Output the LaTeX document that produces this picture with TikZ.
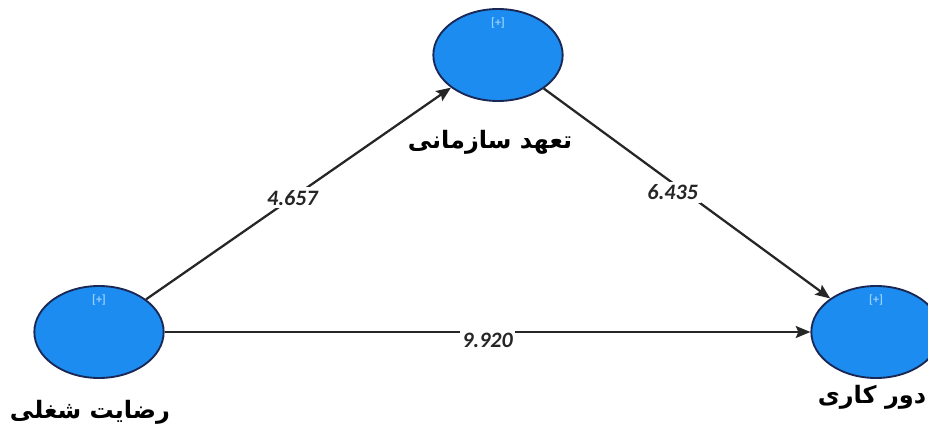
\documentclass[tikz,border=0pt]{standalone}
\usepackage{fontspec}
\setmainfont{Carlito}
\newfontfamily\farsifont[Script=Arabic]{DejaVu Sans}
\TeXXeTstate=1
\usetikzlibrary{arrows.meta,positioning,shapes.geometric}
\definecolor{latentblue}{RGB}{28,140,240}
\definecolor{latentedge}{RGB}{25,40,85}
\definecolor{pluslight}{RGB}{150,210,255}

\begin{document}
\begin{tikzpicture}[x=0.75pt,y=-0.75pt,
  latent/.style={ellipse,draw=latentedge,line width=1.4pt,fill=latentblue,
    minimum width=97pt,minimum height=69pt,inner sep=0pt},
  plussign/.style={text=pluslight,font=\fontsize{9}{10}\selectfont\bfseries,inner sep=0pt},
  effect/.style={black!85,line width=1.7pt,-{Stealth[length=11pt,width=9pt,inset=2pt]}},
  coef/.style={fill=white,inner sep=2pt,text=black!85,
    font=\fontsize{16.5}{19}\selectfont\bfseries\itshape},
  farsi/.style={font=\farsifont\fontsize{18}{21}\selectfont\bfseries}]
\useasboundingbox (0,0) rectangle (928,428);
\clip (0,0) rectangle (928,428);

% Latent variables
\node[latent] (orgcom) at (498,55) {};
\node[latent] (jobsat) at (99,332) {};
\node[latent] (telework) at (876,332) {};

% [+] markers
\node[plussign,below=7pt of orgcom.north] (plusO) {[+]};
\node[plussign,below=7pt of jobsat.north] (plusJ) {[+]};
\node[plussign,below=7pt of telework.north] (plusT) {[+]};

% Names
\node[farsi] (nameO) at (490,142) {\beginR تعهد سازمانی\endR};
\node[farsi] (nameJ) at (90,412) {\beginR رضایت شغلی\endR};
\node[farsi] (nameT) at (872,397) {\beginR دور کاری\endR};

% Paths with coefficients
\draw[effect] (jobsat) -- (orgcom) node[coef,pos=0.48] {4.657};
\draw[effect] (orgcom) -- (telework) node[coef,pos=0.45,yshift=-7pt] {6.435};
\draw[effect] (jobsat) -- (telework) node[coef,pos=0.5,yshift=-6.5pt] {9.920};
\end{tikzpicture}
\end{document}
